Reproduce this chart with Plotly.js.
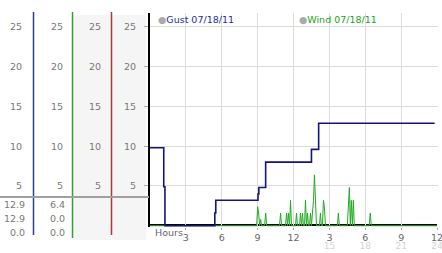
<!DOCTYPE html>
<html><head><meta charset="utf-8">
<script src="https://cdn.plot.ly/plotly-3.0.1.min.js"></script>
<style>html,body{margin:0;padding:0;background:#fff;}#c{width:442px;height:253px;}</style>
</head><body><div id="c"></div>
<script>
// ---- data ----
const gustHours  = [0, 1.15, 1.25, 5.42, 5.5, 9.03, 9.1, 9.67, 13.5, 14.1, 23.8];
const gustValues = [9.8, 4.9, 0, 1.6, 3.2, 4.0, 4.8, 8.0, 9.6, 12.9, 12.9];

const windHours  = [0, 8.92, 9.0, 9.08, 9.17, 9.25, 9.33, 9.58, 9.67, 9.75, 10.83, 10.92, 11.0,
  11.33, 11.42, 11.5, 11.58, 11.67, 11.75, 11.83, 12.17, 12.25, 12.33, 12.5, 12.58, 12.67, 12.75, 12.83,
  12.92, 13.0, 13.08, 13.17, 13.25, 13.33, 13.42, 13.5, 13.58, 13.67, 13.75, 13.83, 13.92,
  14.17, 14.25, 14.33, 14.42, 14.5, 14.58, 14.67, 15.67, 15.75, 15.83,
  16.5, 16.58, 16.67, 16.75, 16.83, 16.92, 17.0, 17.08, 18.33, 18.42, 18.5, 24];
const windValues = [0, 0, 2.4, 1.6, 0, 0.8, 0, 0, 1.6, 0, 0, 1.6, 0,
  0, 1.6, 0, 1.6, 0, 3.2, 0, 0, 1.6, 0, 0, 1.6, 0, 1.6, 0,
  0, 3.2, 0, 1.6, 0, 0, 1.6, 0, 1.6, 3.2, 6.4, 3.2, 0,
  0, 1.6, 0, 0, 3.2, 2.4, 0, 0, 1.6, 0,
  0, 2.4, 4.8, 0, 3.2, 0, 3.2, 0, 0, 1.6, 0, 0];

const yTicks = [5, 10, 15, 20, 25];
const xTicks = [3, 6, 9, 12, 15, 18, 21, 24];
const xTickTop = ['3', '6', '9', '12', '3', '6', '9', '12'];
const xTicks2 = [15, 18, 21, 24];
const xTickBottom = ['15', '18', '21', '24'];
const gustStats = ['12.9', '12.9', '0.0'];
const windStats = ['6.4', '0.0', '0.0'];
const gustLabel = 'Gust 07/18/11';
const windLabel = 'Wind 07/18/11';

// ---- layout helpers ----
const W = 442, H = 253, ML = 0, MR = 4, MT = 13, MB = 26;
const PW = W - ML - MR, PH = H - MT - MB;
const px = x => (x - ML) / PW;
const py = y => (H - MB - y) / PH;
const FONT = 'DejaVu Sans';
const yRange = [-0.16, 26.76];
const xRange = [0, 24.08];

const traces = [
  {x: windHours, y: windValues, type: 'scatter', mode: 'lines', name: windLabel,
   line: {color: '#22aa22', width: 1}, hoverinfo: 'skip'},
  {x: gustHours, y: gustValues, type: 'scatter', mode: 'lines', name: gustLabel,
   line: {color: '#14147e', width: 1.6, shape: 'hv'}, hoverinfo: 'skip'},
  {x: [null], y: [null], yaxis: 'y2', type: 'scatter', hoverinfo: 'skip'},
  {x: [null], y: [null], yaxis: 'y3', type: 'scatter', hoverinfo: 'skip'},
  {x: [null], y: [null], yaxis: 'y4', type: 'scatter', hoverinfo: 'skip'},
  {x: [null], y: [null], xaxis: 'x2', type: 'scatter', hoverinfo: 'skip'}
];

const sideAxis = pos => ({
  overlaying: 'y', anchor: 'free', position: px(pos), range: yRange,
  tickmode: 'array', tickvals: yTicks, ticks: '', showgrid: false, zeroline: false,
  showline: false, tickfont: {family: FONT, size: 9.5, color: '#777'}, fixedrange: true
});

const shapes = [
  {type: 'rect', xref: 'paper', yref: 'paper', x0: px(73), x1: px(111), y0: py(240), y1: py(15),
   fillcolor: '#f5f5f5', line: {width: 0}, layer: 'below'},
  {type: 'rect', xref: 'paper', yref: 'paper', x0: px(112), x1: px(146), y0: py(240), y1: py(15),
   fillcolor: '#f5f5f5', line: {width: 0}, layer: 'below'},
  {type: 'line', xref: 'paper', yref: 'paper', x0: px(33.5), x1: px(33.5), y0: py(235), y1: py(12),
   line: {color: '#2a3f9a', width: 1.5}},
  {type: 'line', xref: 'paper', yref: 'paper', x0: px(72.5), x1: px(72.5), y0: py(238), y1: py(12),
   line: {color: '#33a033', width: 1.5}},
  {type: 'line', xref: 'paper', yref: 'paper', x0: px(111.5), x1: px(111.5), y0: py(235), y1: py(12),
   line: {color: '#a83a3a', width: 1.5}},
  {type: 'line', xref: 'paper', yref: 'paper', x0: 0, x1: px(149), y0: py(197), y1: py(197),
   line: {color: '#a0a0a0', width: 2}},
  {type: 'line', xref: 'x', yref: 'paper', x0: 0, x1: 24, y0: py(225), y1: py(225),
   line: {color: '#000', width: 2}, layer: 'below'}
];

const ann = [];
const statFont = {family: FONT, size: 9.5, color: '#777'};
[204, 218, 232].forEach((yy, i) => {
  ann.push({xref: 'paper', yref: 'paper', x: px(27), y: py(yy), text: gustStats[i], showarrow: false,
            xanchor: 'right', yanchor: 'middle', font: statFont});
  ann.push({xref: 'paper', yref: 'paper', x: px(67), y: py(yy), text: windStats[i], showarrow: false,
            xanchor: 'right', yanchor: 'middle', font: statFont});
});
ann.push({xref: 'paper', yref: 'paper', x: px(156), y: py(20), xanchor: 'left', yanchor: 'middle',
  showarrow: false, text: '<span style="color:#aaa">●</span>' + gustLabel,
  font: {family: FONT, size: 9.5, color: '#1c2f9c'}});
ann.push({xref: 'paper', yref: 'paper', x: px(297), y: py(20), xanchor: 'left', yanchor: 'middle',
  showarrow: false, text: '<span style="color:#aaa">●</span>' + windLabel,
  font: {family: FONT, size: 9.5, color: '#22a022'}});
ann.push({xref: 'paper', yref: 'paper', x: px(153), y: py(232), xanchor: 'left', yanchor: 'middle',
  showarrow: false, text: 'Hours', font: {family: FONT, size: 9.5, color: '#666'}});

const layout = {
  width: W, height: H, margin: {l: ML, r: MR, t: MT, b: MB, pad: 0},
  paper_bgcolor: '#fff', plot_bgcolor: '#fff', showlegend: false,
  font: {family: FONT, size: 9.5, color: '#666'},
  xaxis: {domain: [px(150), 1], range: xRange, tickmode: 'array', tickvals: xTicks, ticktext: xTickTop,
    showgrid: true, gridcolor: '#dcdcdc', gridwidth: 1, zeroline: false, showline: false,
    ticks: 'outside', ticklen: 2, tickcolor: '#aaa', ticklabeloverflow: 'allow',
    tickfont: {family: FONT, size: 9.5, color: '#666'}, fixedrange: true},
  xaxis2: {overlaying: 'x', anchor: 'y', side: 'bottom', range: xRange, tickmode: 'array',
    tickvals: xTicks2, ticktext: xTickBottom, showgrid: false, zeroline: false, showline: false,
    ticks: '', ticklabelstandoff: 12, ticklabeloverflow: 'allow',
    tickfont: {family: FONT, size: 9, color: '#d4d4d4'}, fixedrange: true},
  yaxis: {range: yRange, tickmode: 'array', tickvals: yTicks, showgrid: true, gridcolor: '#dcdcdc',
    zeroline: false, showline: true, linecolor: '#000', linewidth: 2, ticks: 'outside', ticklen: 4,
    tickcolor: '#aaa', ticklabelstandoff: 6, tickfont: {family: FONT, size: 9.5, color: '#777'},
    fixedrange: true},
  yaxis2: sideAxis(101),
  yaxis3: sideAxis(63),
  yaxis4: sideAxis(22),
  shapes: shapes, annotations: ann
};

Plotly.newPlot('c', traces, layout, {staticPlot: true, displayModeBar: false});
</script></body></html>
